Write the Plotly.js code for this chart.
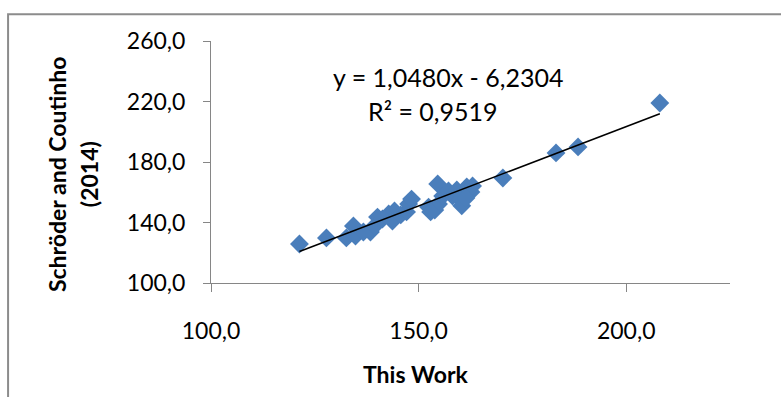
<!DOCTYPE html>
<html>
<head>
<meta charset="utf-8">
<script src="https://cdn.plot.ly/plotly-3.0.1.min.js"></script>
<style>
html,body{margin:0;padding:0;background:#fff;}
#chart{width:781px;height:397px;}
</style>
</head>
<body>
<div id="chart"></div>
<script>
// Data
const thisWork = [121.3, 127.8, 132.6, 134.3, 134.8, 136.7, 138.4, 139.4, 140.1, 141.3,
  142.8, 144.2, 143.7, 145.7, 147.1, 147.6, 148.3, 152.4, 153.9, 154.8,
  154.6, 155.8, 157.2, 158.2, 159.2, 160.1, 160.4, 161.6, 162.6, 163.0,
  161.4, 152.9, 170.3, 183.1, 188.4, 208.1];
const schroderCoutinho = [125.8, 129.8, 129.8, 137.7, 131.1, 133.7, 133.7, 137.7, 143.6, 142.3,
  145.6, 147.6, 141.0, 145.0, 147.0, 152.2, 155.5, 150.2, 148.3, 152.2,
  165.5, 157.5, 160.8, 157.5, 161.5, 155.5, 151.0, 163.5, 160.2, 164.1,
  156.2, 147.0, 169.4, 186.0, 190.0, 219.0];
const slope = 1.0480;
const intercept = -6.2304;
const rSquared = 0.9519;
const xTicks = [100, 150, 200];
const xTickLabels = ['100,0', '150,0', '200,0'];
const yTicks = [100, 140, 180, 220, 260];
const yTickLabels = ['100,0', '140,0', '180,0', '220,0', '260,0'];

const xMin = Math.min(...thisWork), xMax = Math.max(...thisWork);
const trendX = [xMin, xMax];
const trendY = trendX.map(v => slope * v + intercept);

const fmt = (v, d) => v.toFixed(d).replace('.', ',');
const eqText = 'y = ' + fmt(slope, 4) + 'x - ' + fmt(-intercept, 4);
const r2Text = 'R² = ' + fmt(rSquared, 4);

const font = 'Lato, "Open Sans", sans-serif';

const traces = [
  {
    x: thisWork, y: schroderCoutinho, type: 'scatter', mode: 'markers',
    marker: {symbol: 'diamond', size: 14.5, color: '#4a7ebb', line: {width: 0}},
    hoverinfo: 'x+y', showlegend: false
  },
  {
    x: trendX, y: trendY, type: 'scatter', mode: 'lines',
    line: {color: '#000000', width: 1.6}, hoverinfo: 'skip', showlegend: false
  }
];

const layout = {
  width: 781, height: 397,
  margin: {l: 211, r: 51, t: 41, b: 114},
  paper_bgcolor: '#ffffff', plot_bgcolor: '#ffffff',
  font: {family: font, color: '#000000', size: 23},
  showlegend: false,
  xaxis: {
    range: [100, 225], tickvals: xTicks, ticktext: xTickLabels,
    showgrid: false, zeroline: false, showline: true, linecolor: '#868686', linewidth: 1,
    ticks: 'outside', ticklen: 8, tickcolor: '#868686', tickwidth: 1,
    ticklabelstandoff: 19, tickfont: {family: font, size: 23, color: '#000'}
  },
  yaxis: {
    range: [100, 260], tickvals: yTicks, ticktext: yTickLabels,
    showgrid: false, zeroline: false, showline: true, linecolor: '#868686', linewidth: 1,
    ticks: 'outside', ticklen: 7, tickcolor: '#868686', tickwidth: 1,
    ticklabelstandoff: 13, tickfont: {family: font, size: 23, color: '#000'}
  },
  annotations: [
    {text: eqText, xref: 'paper', yref: 'paper', x: 0.4566, y: 0.851, showarrow: false,
     xanchor: 'center', yanchor: 'middle', font: {family: font, size: 25, color: '#000'}},
    {text: r2Text, xref: 'paper', yref: 'paper', x: 0.4277, y: 0.711, showarrow: false,
     xanchor: 'center', yanchor: 'middle', font: {family: font, size: 25, color: '#000'}},
    {text: '<b>This Work</b>', xref: 'paper', yref: 'paper', x: 0.395, y: -0.375, showarrow: false,
     xanchor: 'center', yanchor: 'middle', font: {family: font, size: 23, color: '#000'}},
    {text: '<b>Schröder and Coutinho</b>', xref: 'paper', yref: 'paper', x: -0.2967, y: 0.45,
     showarrow: false, textangle: -90, xanchor: 'center', yanchor: 'middle',
     font: {family: font, size: 23, color: '#000'}},
    {text: '<b>(2014)</b>', xref: 'paper', yref: 'paper', x: -0.235, y: 0.45,
     showarrow: false, textangle: -90, xanchor: 'center', yanchor: 'middle',
     font: {family: font, size: 23, color: '#000'}}
  ],
  shapes: [
    {type: 'path', xref: 'paper', yref: 'paper',
     path: 'M -0.391,-0.5 L -0.391,1.111 L 1.2,1.111',
     line: {color: '#8c8c8c', width: 2}}
  ]
};

Plotly.newPlot('chart', traces, layout, {displayModeBar: false, staticPlot: true});
</script>
</body>
</html>
